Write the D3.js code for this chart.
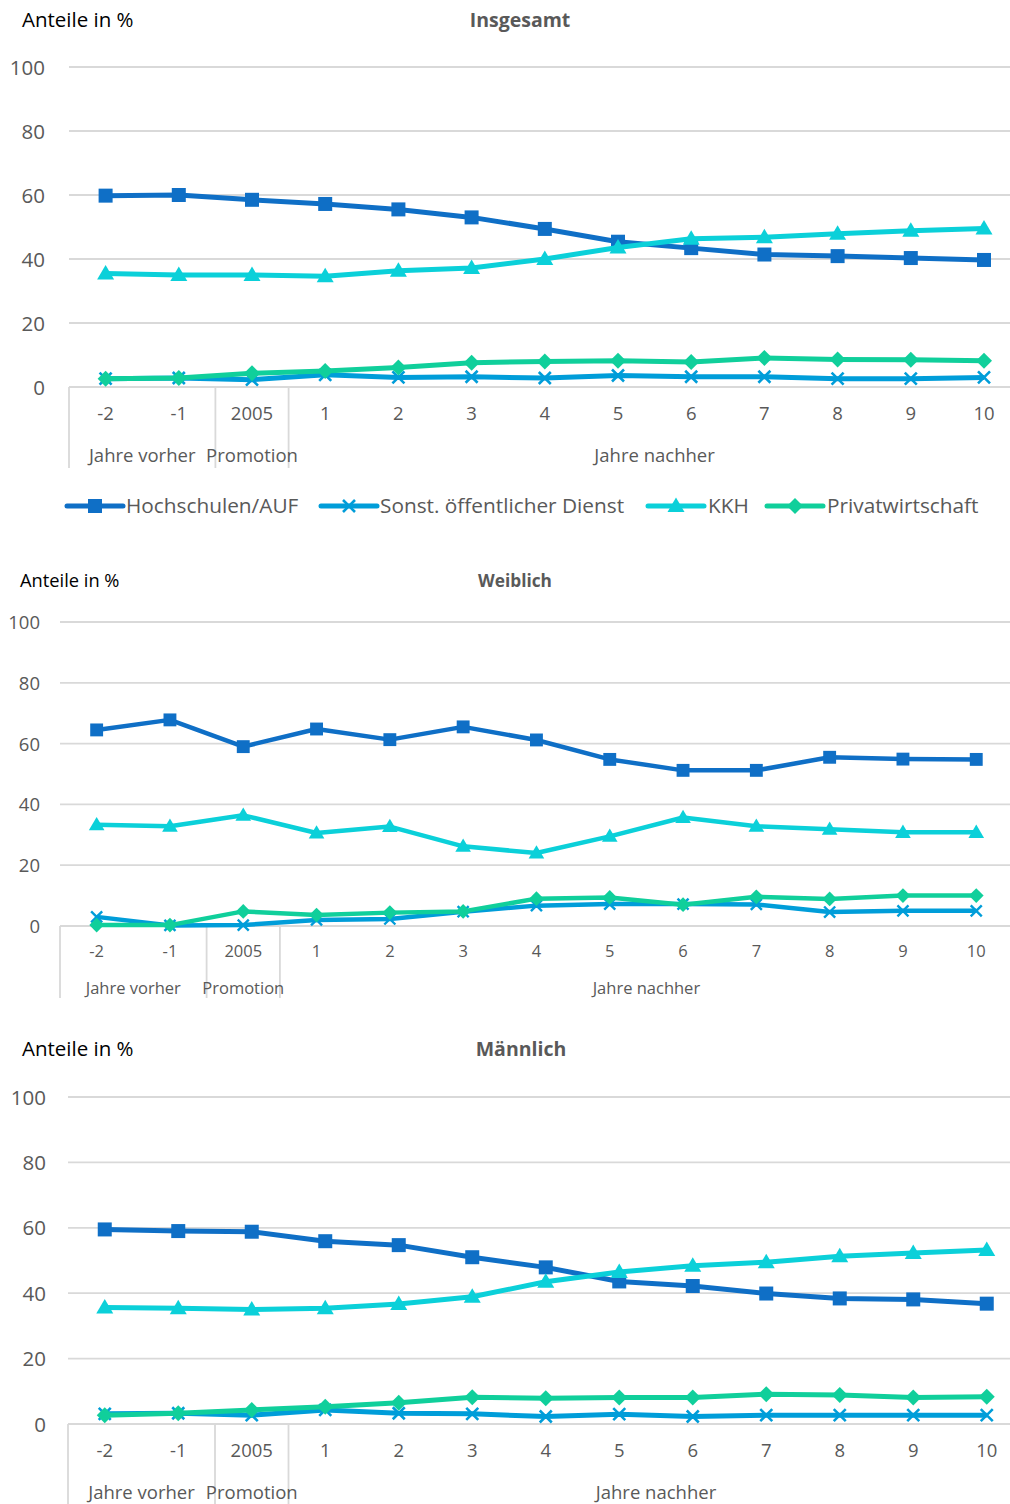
<!DOCTYPE html>
<html lang="de">
<head>
<meta charset="utf-8">
<script src="https://cdn.jsdelivr.net/npm/d3@7"></script>
<style>
  html, body { margin: 0; padding: 0; background: #fff; }
  svg { display: block; }
  text { font-family: "Open Sans", "Noto Sans", sans-serif; }
</style>
</head>
<body>
<svg id="chart" width="1010" height="1504"></svg>
<script>
// Kategorien der x-Achse und ihre Gruppen
const categories = ["-2", "-1", "2005", "1", "2", "3", "4", "5", "6", "7", "8", "9", "10"];
const groupLabels = ["Jahre vorher", "Promotion", "Jahre nachher"];
const groupStart = [0, 2, 3];
const groupEnd = [2, 3, 13];
const yTicks = [0, 20, 40, 60, 80, 100];

const seriesNames = ["Hochschulen/AUF", "Sonst. öffentlicher Dienst", "KKH", "Privatwirtschaft"];
const seriesColors = ["#0F6FC6", "#009DD9", "#0BD0D9", "#10CF9B"];
const seriesMarkers = ["square", "cross", "triangle", "diamond"];

// Insgesamt
const insgesamtHochschulen = [59.8, 60.0, 58.5, 57.2, 55.5, 53.0, 49.4, 45.4, 43.4, 41.4, 40.9, 40.3, 39.7];
const insgesamtSonstige    = [2.6, 2.8, 2.3, 3.8, 3.0, 3.2, 2.8, 3.6, 3.2, 3.2, 2.6, 2.6, 3.0];
const insgesamtKKH         = [35.5, 35.0, 35.0, 34.6, 36.3, 37.2, 40.0, 43.6, 46.3, 46.8, 47.9, 48.8, 49.5];
const insgesamtPrivat      = [2.6, 2.8, 4.3, 5.0, 6.1, 7.6, 8.0, 8.2, 7.8, 9.1, 8.6, 8.5, 8.2];

// Weiblich
const weiblichHochschulen = [64.5, 67.8, 59.0, 64.8, 61.3, 65.5, 61.2, 54.8, 51.2, 51.2, 55.5, 54.9, 54.8];
const weiblichSonstige    = [3.0, 0.2, 0.3, 2.0, 2.3, 4.7, 6.7, 7.2, 7.2, 7.1, 4.6, 5.0, 5.0];
const weiblichKKH         = [33.3, 32.8, 36.4, 30.6, 32.7, 26.2, 24.0, 29.5, 35.7, 32.8, 31.8, 30.8, 30.8];
const weiblichPrivat      = [0.3, 0.3, 4.8, 3.6, 4.4, 4.8, 9.0, 9.4, 7.0, 9.6, 8.9, 10.0, 10.0];

// Männlich
const maennlichHochschulen = [59.5, 59.0, 58.8, 55.9, 54.7, 51.0, 47.9, 43.6, 42.2, 39.9, 38.4, 38.1, 36.8];
const maennlichSonstige    = [3.1, 3.3, 2.7, 4.3, 3.3, 3.1, 2.3, 3.0, 2.3, 2.7, 2.7, 2.7, 2.7];
const maennlichKKH         = [35.6, 35.4, 35.0, 35.4, 36.7, 38.9, 43.5, 46.5, 48.4, 49.5, 51.3, 52.3, 53.2];
const maennlichPrivat      = [2.7, 3.3, 4.3, 5.3, 6.5, 8.2, 7.9, 8.1, 8.1, 9.1, 8.9, 8.1, 8.3];

const panels = [
  { title: "Insgesamt", series: [insgesamtHochschulen, insgesamtSonstige, insgesamtKKH, insgesamtPrivat],
    x0: 69, step: 73.2, yTop: 67, yBottom: 387, sepBottom: 468, tickY: 414, groupY: 456,
    headY: 20, headX: 22, titleX: 520, yLabelX: 45, fs: 18.5, yfs: 20.5, headFs: 20.5, lw: 5, ms: 1 },
  { title: "Weiblich", series: [weiblichHochschulen, weiblichSonstige, weiblichKKH, weiblichPrivat],
    x0: 60, step: 73.3, yTop: 622, yBottom: 926, sepBottom: 998, tickY: 951, groupY: 988,
    headY: 581, headX: 20, titleX: 515, yLabelX: 40, fs: 16.5, yfs: 18.5, headFs: 18.3, lw: 4.5, ms: 0.92 },
  { title: "Männlich", series: [maennlichHochschulen, maennlichSonstige, maennlichKKH, maennlichPrivat],
    x0: 68, step: 73.5, yTop: 1097, yBottom: 1424, sepBottom: 1504, tickY: 1451, groupY: 1493,
    headY: 1049, headX: 22, titleX: 521, yLabelX: 46, fs: 18.5, yfs: 20.5, headFs: 20.5, lw: 5, ms: 1 }
];

const svg = d3.select("#chart");
const gridColor = "#D9D9D9";
const textColor = "#595959";

function drawMarker(g, type, color, scale) {
  const s = scale;
  if (type === "square") {
    g.append("rect").attr("x", -7 * s).attr("y", -7 * s).attr("width", 14 * s).attr("height", 14 * s)
      .attr("fill", color);
  } else if (type === "triangle") {
    g.append("path").attr("d", `M0,${-8.5 * s}L${8.5 * s},${6 * s}L${-8.5 * s},${6 * s}Z`).attr("fill", color);
  } else if (type === "diamond") {
    g.append("path").attr("d", `M0,${-8 * s}L${8 * s},0L0,${8 * s}L${-8 * s},0Z`).attr("fill", color);
  } else if (type === "cross") {
    g.append("path").attr("d", `M${-6 * s},${-6 * s}L${6 * s},${6 * s}M${6 * s},${-6 * s}L${-6 * s},${6 * s}`)
      .attr("stroke", color).attr("stroke-width", 2.6 * s).attr("fill", "none");
  }
}

panels.forEach(p => {
  const x = d3.scaleBand().domain(categories).range([p.x0, p.x0 + categories.length * p.step]);
  const cx = c => x(c) + x.bandwidth() / 2;
  const y = d3.scaleLinear().domain([0, 100]).range([p.yBottom, p.yTop]);
  const g = svg.append("g");

  // Gitternetzlinien
  g.selectAll(".grid").data(yTicks).join("line")
    .attr("x1", p.x0).attr("x2", 1012)
    .attr("y1", d => y(d)).attr("y2", d => y(d))
    .attr("stroke", gridColor).attr("stroke-width", 1.8);

  // y-Achsenbeschriftung
  const yAxis = d3.axisLeft(y).tickValues(yTicks).tickSize(0).tickPadding(0);
  const ya = g.append("g").attr("transform", `translate(${p.yLabelX},0)`).call(yAxis);
  ya.select(".domain").remove();
  ya.selectAll("text").attr("font-size", p.yfs).attr("fill", textColor)
    .attr("font-family", "'Open Sans', sans-serif").attr("dy", "0.35em");

  // Trennlinien der Kategoriegruppen
  g.selectAll(".sep").data(groupStart).join("line")
    .attr("x1", d => x(categories[d])).attr("x2", d => x(categories[d]))
    .attr("y1", p.yBottom).attr("y2", p.sepBottom)
    .attr("stroke", gridColor).attr("stroke-width", 1.8);

  // x-Achsenbeschriftung
  const xAxis = d3.axisBottom(x).tickSize(0).tickPadding(0);
  const xa = g.append("g").attr("transform", `translate(0,${p.tickY})`).call(xAxis);
  xa.select(".domain").remove();
  xa.selectAll("text").attr("font-size", p.fs).attr("fill", textColor)
    .attr("font-family", "'Open Sans', sans-serif").attr("dy", "0.35em");

  // Gruppenbeschriftung
  g.selectAll(".grp").data(groupLabels).join("text")
    .attr("x", (d, i) => {
      const a = x(categories[groupStart[i]]);
      const b = groupEnd[i] >= categories.length ? p.x0 + categories.length * p.step : x(categories[groupEnd[i]]);
      return (a + b) / 2;
    })
    .attr("y", p.groupY).attr("dy", "0.35em").attr("text-anchor", "middle")
    .attr("font-size", p.fs).attr("fill", textColor).text(d => d);

  // Kopfzeile
  g.append("text").attr("x", p.headX).attr("y", p.headY).attr("dy", "0.35em")
    .attr("font-size", p.headFs).attr("fill", "#000").text("Anteile in %");
  g.append("text").attr("x", p.titleX).attr("y", p.headY).attr("dy", "0.35em").attr("text-anchor", "middle")
    .attr("font-size", p.headFs - 1).attr("font-weight", "bold").attr("fill", textColor).text(p.title);

  // Linien mit Markern
  const line = d3.line().x((d, i) => cx(categories[i])).y(d => y(d));
  p.series.forEach((vals, si) => {
    const sg = g.append("g");
    sg.append("path").datum(vals).attr("d", line)
      .attr("fill", "none").attr("stroke", seriesColors[si]).attr("stroke-width", p.lw)
      .attr("stroke-linejoin", "round");
    vals.forEach((v, i) => {
      const m = sg.append("g").attr("transform", `translate(${cx(categories[i])},${y(v)})`);
      drawMarker(m, seriesMarkers[si], seriesColors[si], p.ms);
    });
  });
});

// Legende
const legendItems = [
  { x: 67, tx: 126 },
  { x: 321, tx: 380 },
  { x: 648, tx: 708 },
  { x: 767, tx: 827 }
];
const legend = svg.append("g");
seriesNames.forEach((name, i) => {
  const it = legendItems[i];
  const ly = 506;
  legend.append("line").attr("x1", it.x).attr("x2", it.x + 56).attr("y1", ly).attr("y2", ly)
    .attr("stroke", seriesColors[i]).attr("stroke-width", 5).attr("stroke-linecap", "round");
  const m = legend.append("g").attr("transform", `translate(${it.x + 28},${ly})`);
  drawMarker(m, seriesMarkers[i], seriesColors[i], 1);
  legend.append("text").attr("x", it.tx).attr("y", ly).attr("dy", "0.35em")
    .attr("font-size", 20.8).attr("fill", textColor).text(name);
});
</script>
</body>
</html>
